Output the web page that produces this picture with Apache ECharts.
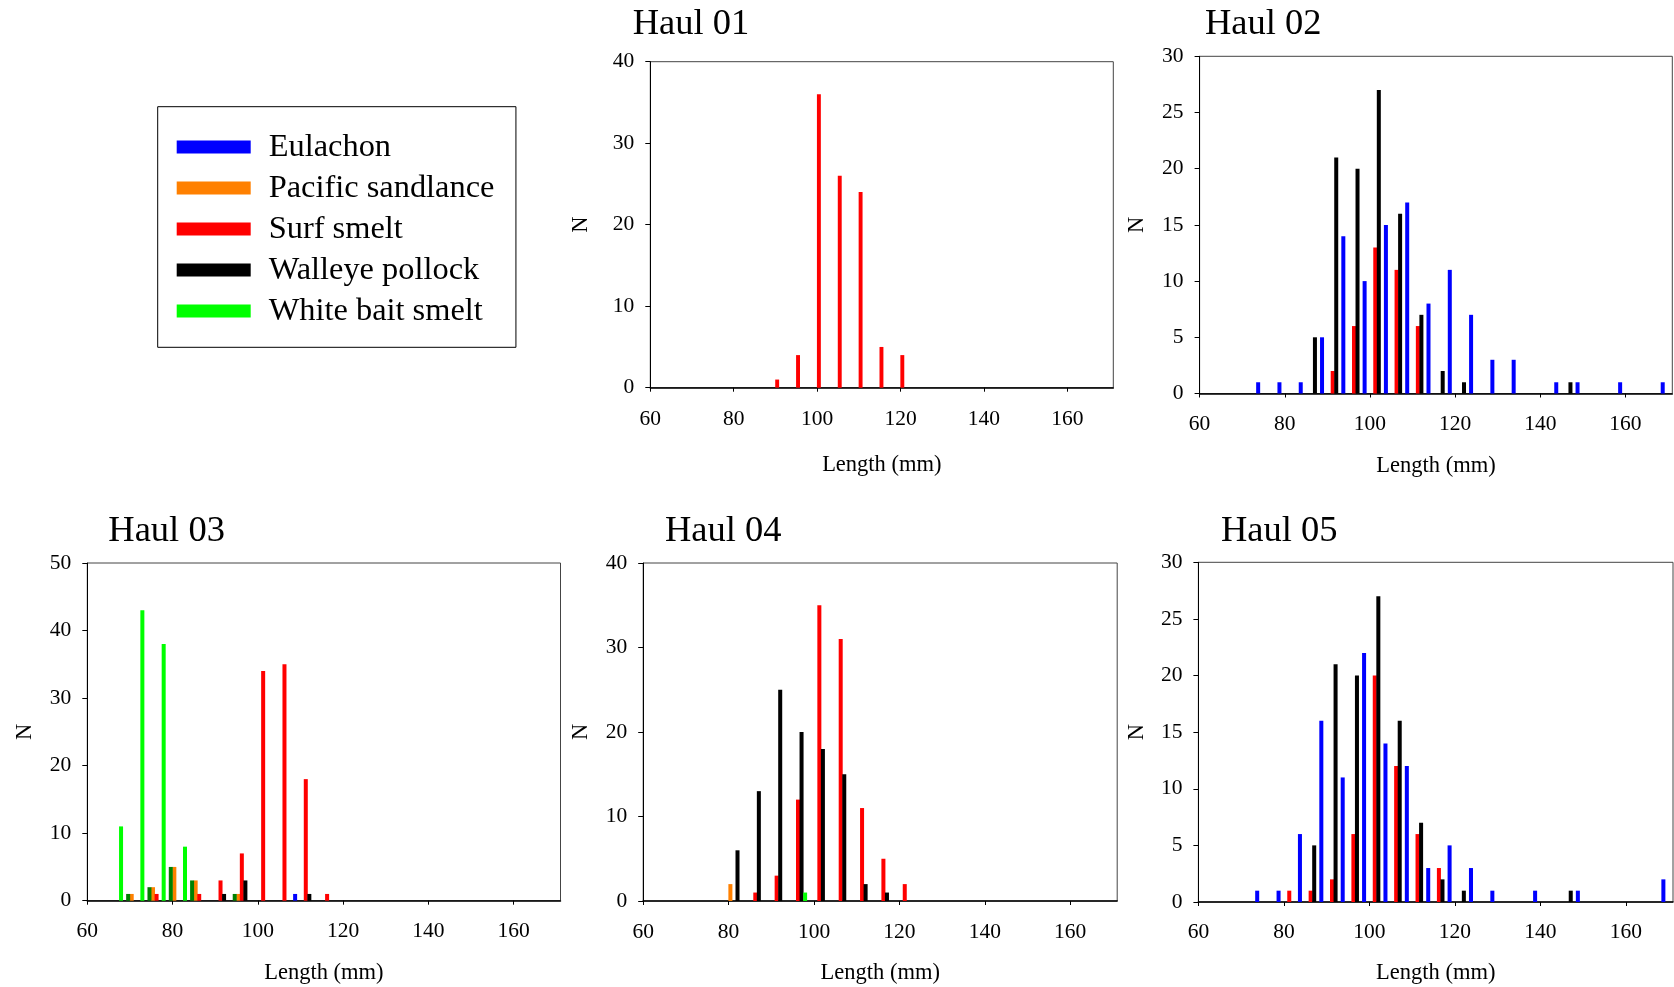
<!DOCTYPE html>
<html>
<head>
<meta charset="utf-8">
<script src="https://cdn.jsdelivr.net/npm/echarts@6/dist/echarts.min.js"></script>
<style>
html, body { margin: 0; padding: 0; background: #ffffff; }
#chart { width: 1674px; height: 987px; }
</style>
</head>
<body>
<div id="chart"></div>
<script>
// ---------------- DATA ----------------
// 5 mm length bins (midpoints, mm): 65-70, 70-75, ... 165-170
const lengthBinMidpoints = [67.5, 72.5, 77.5, 82.5, 87.5, 92.5, 97.5, 102.5, 107.5, 112.5, 117.5,
                            122.5, 127.5, 132.5, 137.5, 142.5, 147.5, 152.5, 157.5, 162.5, 167.5];
const xTickValues = [60, 80, 100, 120, 140, 160];
const haulTitles = ['Haul 01', 'Haul 02', 'Haul 03', 'Haul 04', 'Haul 05'];
const speciesNames = ['Eulachon', 'Pacific sandlance', 'Surf smelt', 'Walleye pollock', 'White bait smelt'];
const unlabelledName = 'Unlabelled';
const yAxisMax = [40, 30, 50, 40, 30];
const yAxisInterval = [10, 5, 10, 10, 5];

// counts per bin (aligned with lengthBinMidpoints)
//                       65 70 75 80 85 90 95 100 105 110 115 120 125 130 135 140 145 150 155 160 165
const haul01Surf      = [0, 0, 0, 0, 0, 1, 4, 36, 26, 24, 5,  4,  0,  0,  0,  0,  0,  0,  0,  0,  0];

const haul02Eulachon  = [0, 1, 1, 1, 5, 14,10, 15, 17, 8,  11, 7,  3,  3,  0,  1,  1,  0,  1,  0,  1];
const haul02Surf      = [0, 0, 0, 0, 0, 2, 6, 13, 11, 6,  0,  0,  0,  0,  0,  0,  0,  0,  0,  0,  0];
const haul02Pollock   = [0, 0, 0, 0, 5, 21,20, 27, 16, 7,  2,  1,  0,  0,  0,  0,  1,  0,  0,  0,  0];

const haul03Eulachon  = [0, 0, 0, 0, 0, 0, 0, 0,  1,  0,  0,  0,  0,  0,  0,  0,  0,  0,  0,  0,  0];
const haul03Sandlance = [0, 1, 2, 5, 3, 0, 1, 0,  0,  0,  0,  0,  0,  0,  0,  0,  0,  0,  0,  0,  0];
const haul03Surf      = [0, 0, 1, 0, 1, 3, 7, 34, 35, 18, 1,  0,  0,  0,  0,  0,  0,  0,  0,  0,  0];
const haul03Pollock   = [0, 0, 0, 0, 0, 1, 3, 0,  0,  1,  0,  0,  0,  0,  0,  0,  0,  0,  0,  0,  0];
const haul03WhiteBait = [11,43,38,8, 0, 0, 0, 0,  0,  0,  0,  0,  0,  0,  0,  0,  0,  0,  0,  0,  0];
const haul03Unlabel   = [1, 2, 5, 3, 0, 1, 0, 0,  0,  0,  0,  0,  0,  0,  0,  0,  0,  0,  0,  0,  0];

const haul04Sandlance = [0, 0, 0, 2, 0, 0, 0, 0,  0,  0,  0,  0,  0,  0,  0,  0,  0,  0,  0,  0,  0];
const haul04Surf      = [0, 0, 0, 0, 1, 3, 12,35, 31, 11, 5,  2,  0,  0,  0,  0,  0,  0,  0,  0,  0];
const haul04Pollock   = [0, 0, 0, 6, 13,25,20,18, 15, 2,  1,  0,  0,  0,  0,  0,  0,  0,  0,  0,  0];
const haul04WhiteBait = [0, 0, 0, 0, 0, 0, 1, 0,  0,  0,  0,  0,  0,  0,  0,  0,  0,  0,  0,  0,  0];

const haul05Eulachon  = [0, 1, 1, 6, 16,11,22,14, 12, 3,  5,  3,  1,  0,  1,  0,  1,  0,  0,  0,  2];
const haul05Surf      = [0, 0, 0, 1, 1, 2, 6, 20, 12, 6,  3,  0,  0,  0,  0,  0,  0,  0,  0,  0,  0];
const haul05Pollock   = [0, 0, 0, 0, 5, 21,20,27, 16, 7,  2,  1,  0,  0,  0,  0,  1,  0,  0,  0,  0];

const haulCounts = [
  { 'Surf smelt': haul01Surf },
  { 'Eulachon': haul02Eulachon, 'Surf smelt': haul02Surf, 'Walleye pollock': haul02Pollock },
  { 'Eulachon': haul03Eulachon, 'Pacific sandlance': haul03Sandlance, 'Surf smelt': haul03Surf,
    'Walleye pollock': haul03Pollock, 'White bait smelt': haul03WhiteBait, 'Unlabelled': haul03Unlabel },
  { 'Pacific sandlance': haul04Sandlance, 'Surf smelt': haul04Surf, 'Walleye pollock': haul04Pollock,
    'White bait smelt': haul04WhiteBait },
  { 'Eulachon': haul05Eulachon, 'Surf smelt': haul05Surf, 'Walleye pollock': haul05Pollock }
];

// ---------------- STYLE / LAYOUT ----------------
const speciesColors = {
  'Eulachon': '#0000ff',
  'Pacific sandlance': '#ff8000',
  'Surf smelt': '#ff0000',
  'Walleye pollock': '#000000',
  'White bait smelt': '#00ff00',
  'Unlabelled': '#008000'
};
// order of bars inside each 5 mm bin
const defaultSlotOrder = ['Pacific sandlance', 'Surf smelt', 'Walleye pollock', 'White bait smelt', 'Eulachon', 'Unlabelled'];
const haul01SlotOrder = ['Surf smelt', 'Pacific sandlance', 'Walleye pollock', 'White bait smelt', 'Eulachon', 'Unlabelled'];

const gridBoxes = [
  { left: 650.3, top: 61.7, width: 463, height: 326 },
  { left: 1199.6, top: 56.3, width: 472.7, height: 337.2 },
  { left: 87.3, top: 563, width: 473.2, height: 337.7 },
  { left: 643.2, top: 563, width: 474, height: 338 },
  { left: 1198.4, top: 562.3, width: 474.6, height: 339.7 }
];
const titlePos = [
  { left: 632.7, top: 6 }, { left: 1205, top: 6 }, { left: 108.3, top: 513 },
  { left: 665, top: 513 }, { left: 1221, top: 513 }
];
const yNameGap = [58, 51, 51, 51, 50];
const xNameGap = [65.5, 61, 61, 61, 60];
const xLabelMargin = [21, 19.5, 20, 20, 19.5];

const SERIF = '"Liberation Serif", "Times New Roman", "DejaVu Serif", serif';

const grids = [], xAxes = [], yAxes = [], titles = [], series = [];

gridBoxes.forEach((g, i) => {
  grids.push({ left: g.left, top: g.top, width: g.width, height: g.height,
    show: true, borderColor: '#444', borderWidth: 1, backgroundColor: 'transparent', containLabel: false });
  titles.push({ text: haulTitles[i], left: titlePos[i].left, top: titlePos[i].top, padding: 0,
    textStyle: { fontFamily: SERIF, fontSize: 36.5, fontWeight: 'normal', color: '#000' } });
  xAxes.push({
    type: 'value', gridIndex: i, min: 60, max: 171, interval: 20,
    name: 'Length (mm)', nameLocation: 'middle', nameGap: xNameGap[i],
    nameTextStyle: { fontFamily: SERIF, fontSize: 22.5, color: '#000' },
    axisLine: { show: true, onZero: false, lineStyle: { color: '#000', width: 1.5 } },
    axisTick: { show: true, length: 4, customValues: xTickValues, lineStyle: { color: '#000' } },
    axisLabel: { customValues: xTickValues, margin: xLabelMargin[i], fontFamily: SERIF, fontSize: 21.5, color: '#000' },
    splitLine: { show: false }
  });
  yAxes.push({
    type: 'value', gridIndex: i, min: 0, max: yAxisMax[i], interval: yAxisInterval[i],
    name: 'N', nameLocation: 'middle', nameGap: yNameGap[i],
    nameTextStyle: { fontFamily: SERIF, fontSize: 22.5, color: '#000' },
    axisLine: { show: true, lineStyle: { color: '#000', width: 1 } },
    axisTick: { show: true, length: 5, lineStyle: { color: '#000' } },
    axisLabel: { margin: 16, fontFamily: SERIF, fontSize: 21.5, color: '#000' },
    splitLine: { show: false }
  });
  const order = i === 0 ? haul01SlotOrder : defaultSlotOrder;
  order.forEach(name => {
    const counts = haulCounts[i][name] || [];
    const data = [];
    counts.forEach((v, k) => { if (v > 0) data.push([lengthBinMidpoints[k], v]); });
    series.push({
      type: 'bar', name: name, xAxisIndex: i, yAxisIndex: i,
      data: data,
      barWidth: '18.8%', barGap: '-11.4%',
      itemStyle: { color: speciesColors[name] },
      emphasis: { disabled: true },
      animation: false
    });
  });
});

const chart = echarts.init(document.getElementById('chart'), null, { renderer: 'canvas' });
chart.setOption({
  backgroundColor: '#ffffff',
  animation: false,
  title: titles,
  legend: {
    data: speciesNames,
    orient: 'vertical',
    left: 157.7, top: 106.7,
    padding: [24.3, 21.5, 20.3, 19],
    itemWidth: 74, itemHeight: 13, itemGap: 9,
    icon: 'rect',
    borderColor: '#000', borderWidth: 1,
    textStyle: { fontFamily: SERIF, fontSize: 32.4, color: '#000', lineHeight: 32, padding: [0, 0, 0, 13] }
  },
  grid: grids,
  xAxis: xAxes,
  yAxis: yAxes,
  series: series
});
</script>
</body>
</html>
